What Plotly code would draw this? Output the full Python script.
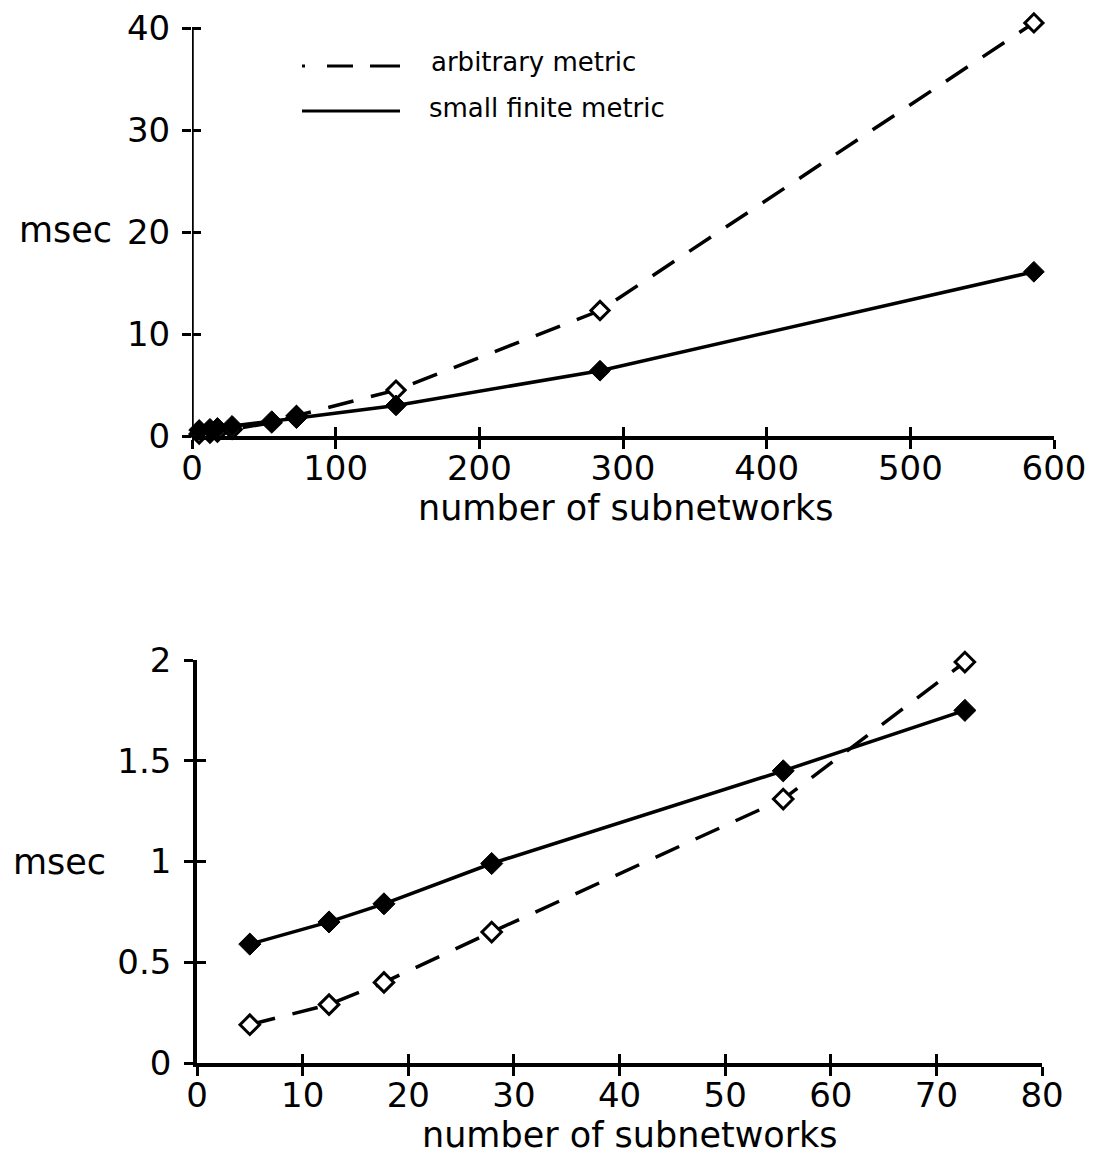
import plotly.graph_objects as go

# ---- data ----
subnets_all = [5, 12.5, 17.7, 27.9, 55.5, 72.7, 142, 284, 586]
arbitrary_all = [0.19, 0.29, 0.40, 0.65, 1.31, 1.99, 4.5, 12.3, 40.5]
small_finite_all = [0.59, 0.70, 0.79, 0.99, 1.45, 1.75, 3.0, 6.4, 16.1]

subnets_zoom = [5, 12.5, 17.7, 27.9, 55.5, 72.7]
arbitrary_zoom = [0.19, 0.29, 0.40, 0.65, 1.31, 1.99]
small_finite_zoom = [0.59, 0.70, 0.79, 0.99, 1.45, 1.75]

top_xticks = [0, 100, 200, 300, 400, 500, 600]
top_yticks = [0, 10, 20, 30, 40]
bot_xticks = [0, 10, 20, 30, 40, 50, 60, 70, 80]
bot_yticks = [0, 0.5, 1, 1.5, 2]
bot_yticklabels = ["0", "0.5", "1", "1.5", "2"]

W, H = 1094, 1159
FONT = "DejaVu Sans"
DASH = "26px,18px"

def px(x):
    return x / W

def py(y):
    return 1 - y / H

fig = go.Figure()

# top chart
fig.add_trace(go.Scatter(
    x=subnets_all, y=arbitrary_all, mode="lines+markers", xaxis="x", yaxis="y",
    line=dict(color="black", width=3.5, dash=DASH),
    marker=dict(symbol="diamond", size=14, color="white", line=dict(color="black", width=3)),
    cliponaxis=False, showlegend=False))
fig.add_trace(go.Scatter(
    x=subnets_all, y=small_finite_all, mode="lines+markers", xaxis="x", yaxis="y",
    line=dict(color="black", width=3.5),
    marker=dict(symbol="diamond", size=16, color="black", line=dict(color="black", width=1)),
    cliponaxis=False, showlegend=False))

# bottom chart
fig.add_trace(go.Scatter(
    x=subnets_zoom, y=arbitrary_zoom, mode="lines+markers", xaxis="x2", yaxis="y2",
    line=dict(color="black", width=3.5, dash=DASH),
    marker=dict(symbol="diamond", size=15, color="white", line=dict(color="black", width=3)),
    cliponaxis=False, showlegend=False))
fig.add_trace(go.Scatter(
    x=subnets_zoom, y=small_finite_zoom, mode="lines+markers", xaxis="x2", yaxis="y2",
    line=dict(color="black", width=3.5),
    marker=dict(symbol="diamond", size=17, color="black", line=dict(color="black", width=1)),
    cliponaxis=False, showlegend=False))

tickfont = dict(family=FONT, size=34, color="black")

# top plot: y=0 at 436px, y=40 at 28px; range extended slightly so the last marker shows
TOP_YMAX = 42
top_unit = (436 - 28) / 40.0
top_xdom = [px(192), px(1054)]
top_ydom = [py(436), py(436 - TOP_YMAX * top_unit)]
bot_xdom = [px(197), px(1042)]
bot_ydom = [py(1063), py(660)]

base_axis = dict(showgrid=False, zeroline=False, color="black", tickcolor="black",
                 tickwidth=2.5, ticklen=9, tickfont=tickfont, fixedrange=True,
                 automargin=False)

fig.update_layout(
    width=W, height=H, margin=dict(l=0, r=0, t=0, b=0, autoexpand=False),
    paper_bgcolor="white", plot_bgcolor="white",
    font=dict(family=FONT, color="black"),
    xaxis=dict(base_axis, domain=top_xdom, range=[0, 600], tickvals=top_xticks,
               anchor="y", showline=True, linewidth=3.5, linecolor="black",
               ticks="outside", ticklabelstandoff=-10),
    yaxis=dict(base_axis, domain=top_ydom, range=[0, TOP_YMAX], tickvals=top_yticks,
               anchor="x", showline=False,
               ticks="outside", ticklabelstandoff=5),
    xaxis3=dict(base_axis, overlaying="x", matches="x", anchor="y", range=[0, 600],
                tickvals=top_xticks, showticklabels=False, ticks="inside", showline=False),
    yaxis3=dict(base_axis, overlaying="y", matches="y", anchor="x", range=[0, TOP_YMAX],
                tickvals=top_yticks, showticklabels=False, ticks="inside", showline=False),
    xaxis2=dict(base_axis, domain=bot_xdom, range=[0, 80], tickvals=bot_xticks,
                anchor="y2", showline=True, linewidth=3.5, linecolor="black",
                ticks="outside", ticklabelstandoff=-10),
    yaxis2=dict(base_axis, domain=bot_ydom, range=[0, 2], tickvals=bot_yticks,
                ticktext=bot_yticklabels, anchor="x2", showline=True, linewidth=3.5,
                linecolor="black", ticks="outside", ticklabelstandoff=6),
    xaxis4=dict(base_axis, overlaying="x2", matches="x2", anchor="y2", range=[0, 80],
                tickvals=bot_xticks, showticklabels=False, ticks="inside", showline=False),
    yaxis4=dict(base_axis, overlaying="y2", matches="y2", anchor="x2", range=[0, 2],
                tickvals=bot_yticks, showticklabels=False, ticks="inside", showline=False),
)

# invisible traces to activate overlay axes
fig.add_trace(go.Scatter(x=[None], y=[None], xaxis="x3", yaxis="y3", showlegend=False, hoverinfo="skip"))
fig.add_trace(go.Scatter(x=[None], y=[None], xaxis="x4", yaxis="y4", showlegend=False, hoverinfo="skip"))

titlefont = dict(family=FONT, size=35, color="black")
legfont = dict(family=FONT, size=26, color="black")

annotations = [
    dict(text="msec", x=px(114), y=py(230), xanchor="right", yanchor="middle", font=titlefont),
    dict(text="number of subnetworks", x=px(626), y=py(508), xanchor="center", yanchor="middle", font=titlefont),
    dict(text="msec", x=px(108), y=py(862), xanchor="right", yanchor="middle", font=titlefont),
    dict(text="number of subnetworks", x=px(630), y=py(1135), xanchor="center", yanchor="middle", font=titlefont),
    dict(text="arbitrary metric", x=px(429), y=py(62), xanchor="left", yanchor="middle", font=legfont),
    dict(text="small finite metric", x=px(427), y=py(108), xanchor="left", yanchor="middle", font=legfont),
]
for a in annotations:
    a.update(xref="paper", yref="paper", showarrow=False)
fig.update_layout(annotations=annotations)

fig.update_layout(shapes=[
    # top y-axis line, from 0 up to the 40 tick
    dict(type="line", xref="x", yref="y", x0=0, x1=0, y0=0, y1=top_yticks[-1],
         line=dict(color="black", width=3.5), layer="above"),
    # legend samples
    dict(type="line", xref="paper", yref="paper", x0=px(302), x1=px(400), y0=py(66), y1=py(66),
         line=dict(color="black", width=3, dash="3px,22px,26px,17px,30px")),
    dict(type="line", xref="paper", yref="paper", x0=px(302), x1=px(400), y0=py(111), y1=py(111),
         line=dict(color="black", width=3)),
])

fig.write_html("out.html", config={"displayModeBar": False},
               post_script="document.body.style.margin='0';document.body.style.overflow='hidden';")
